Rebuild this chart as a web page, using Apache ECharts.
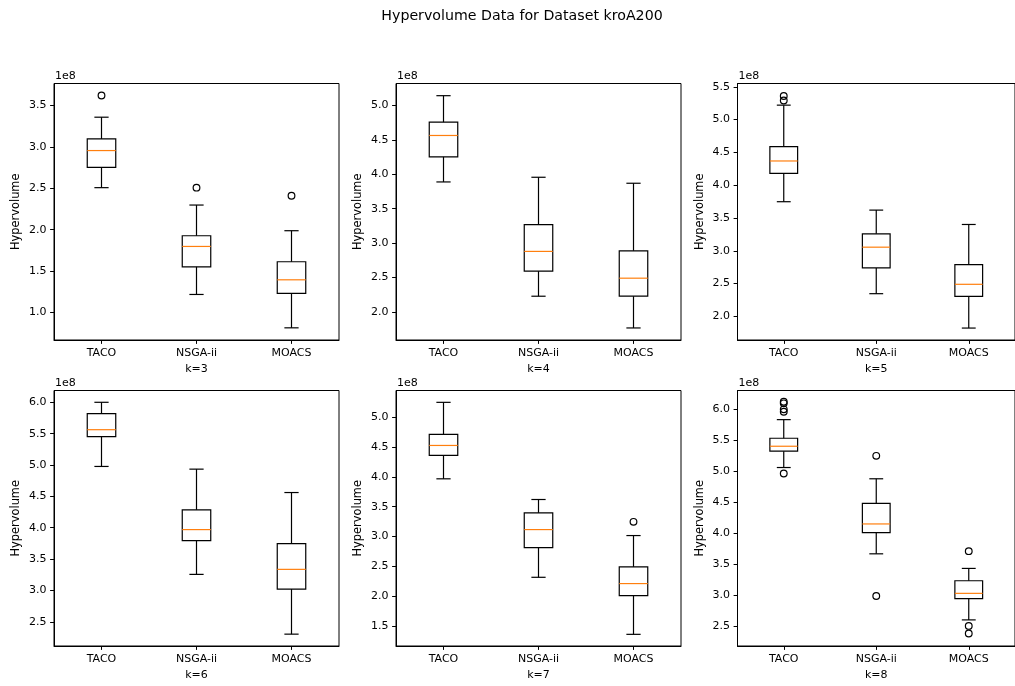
<!DOCTYPE html>
<html><head><meta charset="utf-8">
<script src="https://cdn.jsdelivr.net/npm/echarts@6/dist/echarts.min.js"></script>
<style>html,body{margin:0;padding:0;background:#fff}#c{width:1015px;height:686px}</style>
</head><body><div id="c"></div>
<script>
// ---- data (values in units of 1e8) ----
const categories = ['TACO', 'NSGA-ii', 'MOACS'];
const subplotNames = ['k=3', 'k=4', 'k=5', 'k=6', 'k=7', 'k=8'];
// each box: [low whisker, Q1, median, Q3, high whisker]
const boxK3 = [[2.508, 2.754, 2.956, 3.097, 3.359], [1.218, 1.552, 1.798, 1.927, 2.298], [0.815, 1.230, 1.395, 1.613, 1.988]];
const boxK4 = [[3.888, 4.252, 4.563, 4.757, 5.141], [2.228, 2.592, 2.879, 3.267, 3.956], [1.767, 2.228, 2.490, 2.888, 3.869]];
const boxK5 = [[3.748, 4.181, 4.369, 4.588, 5.220], [2.346, 2.739, 3.055, 3.259, 3.620], [1.822, 2.306, 2.489, 2.790, 3.401]];
const boxK6 = [[4.977, 5.451, 5.563, 5.819, 6.000], [3.256, 3.794, 3.970, 4.285, 4.934], [2.303, 3.022, 3.336, 3.747, 4.561]];
const boxK7 = [[3.967, 4.358, 4.525, 4.710, 5.246], [2.320, 2.817, 3.118, 3.398, 3.621], [1.366, 2.014, 2.215, 2.494, 3.018]];
const boxK8 = [[5.060, 5.324, 5.404, 5.533, 5.834], [3.665, 4.009, 4.148, 4.481, 4.878], [2.597, 2.940, 3.026, 3.230, 3.429]];
// outliers per category
const outK3 = [[3.621], [2.508], [2.411]];
const outK4 = [[], [], []];
const outK5 = [[5.36, 5.29], [], []];
const outK6 = [[], [], []];
const outK7 = [[], [], [3.247]];
const outK8 = [[6.123, 6.097, 6.000, 5.962, 4.964], [5.249, 2.983], [3.708, 2.500, 2.377]];
// axis limits and tick labels
const yMin = [0.668, 1.592, 1.640, 2.114, 1.171, 2.175];
const yMax = [3.766, 5.318, 5.550, 6.188, 5.444, 6.305];
const yTicks = [
  [1.0, 1.5, 2.0, 2.5, 3.0, 3.5],
  [2.0, 2.5, 3.0, 3.5, 4.0, 4.5, 5.0],
  [2.0, 2.5, 3.0, 3.5, 4.0, 4.5, 5.0, 5.5],
  [2.5, 3.0, 3.5, 4.0, 4.5, 5.0, 5.5, 6.0],
  [1.5, 2.0, 2.5, 3.0, 3.5, 4.0, 4.5, 5.0],
  [2.5, 3.0, 3.5, 4.0, 4.5, 5.0, 5.5, 6.0]
];
const titleText = 'Hypervolume Data for Dataset kroA200';
const yName = 'Hypervolume';
const offsetText = '1e8';

const boxes = [boxK3, boxK4, boxK5, boxK6, boxK7, boxK8];
const outs = [outK3, outK4, outK5, outK6, outK7, outK8];

// ---- layout ----
const FONT = 'DejaVu Sans';
const gridLeft = [54, 396, 737.5, 54, 396, 737.5];
const gridTop = [83.5, 83.5, 83.5, 390.5, 390.5, 390.5];
const gridW = 285;
const gridH = [256.5, 256.5, 256.5, 255.5, 255.5, 255.5];
const LW = 1.2;

function renderBox(params, api) {
  const x = api.value(0);
  const lo = api.coord([x, api.value(1)]);
  const q1 = api.coord([x, api.value(2)]);
  const md = api.coord([x, api.value(3)]);
  const q3 = api.coord([x, api.value(4)]);
  const hi = api.coord([x, api.value(5)]);
  const band = api.size([1, 0])[0];
  const w = band * 0.3;
  const cx = lo[0];
  const ls = { stroke: '#000', lineWidth: LW, fill: null };
  return {
    type: 'group', children: [
      { type: 'line', shape: { x1: cx, y1: q1[1], x2: cx, y2: lo[1] }, style: ls },
      { type: 'line', shape: { x1: cx, y1: q3[1], x2: cx, y2: hi[1] }, style: ls },
      { type: 'line', shape: { x1: cx - w / 4, y1: lo[1], x2: cx + w / 4, y2: lo[1] }, style: ls },
      { type: 'line', shape: { x1: cx - w / 4, y1: hi[1], x2: cx + w / 4, y2: hi[1] }, style: ls },
      { type: 'rect', shape: { x: cx - w / 2, y: q3[1], width: w, height: q1[1] - q3[1] }, style: { stroke: '#000', lineWidth: LW, fill: 'none' } },
      { type: 'line', shape: { x1: cx - w / 2, y1: md[1], x2: cx + w / 2, y2: md[1] }, style: { stroke: '#ff7f0e', lineWidth: LW } }
    ]
  };
}

const grids = [], xAxes = [], yAxes = [], series = [], graphics = [];
for (let i = 0; i < 6; i++) {
  grids.push({ left: gridLeft[i], top: gridTop[i], width: gridW, height: gridH[i], show: true, borderColor: '#000', borderWidth: 1, backgroundColor: 'transparent' });
  xAxes.push({
    type: 'category', gridIndex: i, data: categories, boundaryGap: true,
    axisLine: { show: true, lineStyle: { color: '#000', width: 1 } },
    axisTick: { show: true, alignWithLabel: true, length: 3.9, lineStyle: { color: '#000', width: 1 } },
    axisLabel: { color: '#000', fontSize: 11, fontFamily: FONT, margin: 7.5 },
    splitLine: { show: false },
    name: subplotNames[i], nameLocation: 'middle', nameGap: 24,
    nameTextStyle: { color: '#000', fontSize: 11, fontFamily: FONT }
  });
  yAxes.push({
    type: 'value', gridIndex: i, min: yMin[i], max: yMax[i],
    axisLine: { show: true, lineStyle: { color: '#000', width: 1 } },
    axisTick: { show: true, length: 3.9, customValues: yTicks[i], lineStyle: { color: '#000', width: 1 } },
    axisLabel: { color: '#000', fontSize: 11, fontFamily: FONT, margin: 7.5, customValues: yTicks[i], formatter: v => Number(v).toFixed(1) },
    splitLine: { show: false },
    name: yName, nameLocation: 'middle', nameRotate: 90, nameGap: 32,
    nameTextStyle: { color: '#000', fontSize: 11.4, fontFamily: FONT }
  });
  series.push({
    type: 'custom', xAxisIndex: i, yAxisIndex: i, renderItem: renderBox,
    encode: { x: 0, y: [1, 2, 3, 4, 5] },
    data: boxes[i].map((b, j) => [j].concat(b)), z: 3, silent: true
  });
  const pts = [];
  outs[i].forEach((arr, j) => arr.forEach(v => pts.push([j, v])));
  series.push({
    type: 'scatter', xAxisIndex: i, yAxisIndex: i, data: pts,
    symbol: 'circle', symbolSize: 6.7,
    itemStyle: { color: 'rgba(0,0,0,0)', borderColor: '#000', borderWidth: LW, opacity: 1 },
    z: 4, silent: true
  });
  graphics.push({
    type: 'text', left: gridLeft[i] + 1, top: gridTop[i] - 13,
    style: { text: offsetText, fill: '#000', fontSize: 11, fontFamily: FONT }
  });
}
graphics.push({
  type: 'text', x: 522, y: 16,
  style: { text: titleText, fill: '#000', fontSize: 14.2, fontFamily: FONT, align: 'center', verticalAlign: 'middle' }
});

const chart = echarts.init(document.getElementById('c'), null, { renderer: 'canvas' });
chart.setOption({
  animation: false,
  backgroundColor: '#fff',
  grid: grids, xAxis: xAxes, yAxis: yAxes, series: series, graphic: graphics
});
</script></body></html>
